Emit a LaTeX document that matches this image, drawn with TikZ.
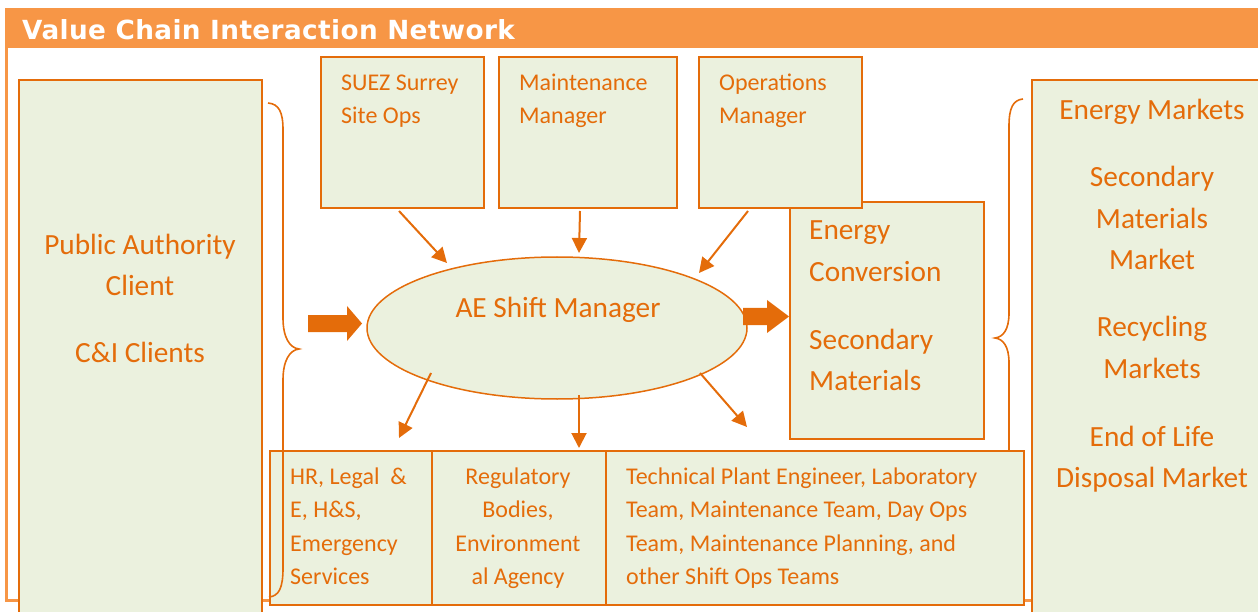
\documentclass[tikz,border=0pt]{standalone}
\usepackage{fontspec}
\setmainfont{Carlito}
\newfontfamily\hdrfont[LetterSpace=1.5]{DejaVu Sans}
\usetikzlibrary{arrows.meta,shapes.geometric,calc}
\definecolor{hdr}{HTML}{F79646}
\definecolor{dk}{HTML}{E46C0A}
\definecolor{pale}{HTML}{EBF1DE}
\newcommand\mylines[2]{\begin{tabular}[t]{@{}#1@{}}#2\end{tabular}}
\begin{document}
\begin{tikzpicture}[x=1pt,y=-1pt,
  box/.style={draw=dk,line width=2pt,fill=pale,inner sep=0pt,anchor=north west},
  sm/.style={text=dk,font=\fontsize{24}{33.3}\selectfont,inner sep=0pt},
  lg/.style={text=dk,font=\fontsize{29.3}{41.5}\selectfont,inner sep=0pt},
  conn/.style={draw=dk,line width=2pt,-{Triangle[length=15pt,width=15pt]}},
  bracestyle/.style={draw=dk,line width=1.6pt},
  blockarrow/.style={fill=dk}]
\useasboundingbox (0,0) rectangle (1258,612);
\clip (0,0) rectangle (1258,612);
% frame and header
\draw[hdr,line width=3pt] (6.5,10) rectangle (1300,600.5);
\fill[hdr] (5,10) rectangle (1300,48.5);
\node[anchor=base west,text=white,font=\hdrfont\bfseries\fontsize{26.3}{30}\selectfont,inner sep=0pt] (title) at (22,39.5) {Value Chain Interaction Network};
% side boxes
\node[box,minimum width=243pt,minimum height=600pt] (pac) at (18,79) {};
\node[box,minimum width=260pt,minimum height=600pt] (mkt) at (1031,79) {};
% energy box
\node[box,minimum width=194pt,minimum height=237pt] (energy) at (789,201) {};
% top boxes
\node[box,minimum width=163pt,minimum height=151pt] (suez) at (320,56) {};
\node[box,minimum width=178pt,minimum height=151pt] (maint) at (498,56) {};
\node[box,minimum width=163pt,minimum height=151pt] (ops) at (698,56) {};
% ellipse
\node[ellipse,draw=dk,line width=1.5pt,fill=pale,minimum width=380pt,minimum height=142pt,inner sep=0pt] (ae) at (557,328) {};
% bottom boxes
\node[box,minimum width=162pt,minimum height=154pt] (hr) at (269,450) {};
\node[box,minimum width=174pt,minimum height=154pt] (reg) at (431,450) {};
\node[box,minimum width=418pt,minimum height=154pt] (tech) at (605,450) {};
% texts
\node[lg,anchor=base] (pactext) at (140,254.5) {\mylines{c}{Public Authority\\Client\\[25.5pt]C\&I Clients}};
\node[lg,anchor=base] (mkttext) at (1152,120) {\mylines{c}{Energy Markets\\[25.5pt]Secondary\\Materials\\Market\\[25.5pt]Recycling\\Markets\\[26.5pt]End of Life\\Disposal Market}};
\node[lg,anchor=base west] (energytext) at (809,240) {\mylines{l}{Energy\\Conversion\\[26.5pt]Secondary\\Materials}};
\node[lg,anchor=base] (aetext) at (558,317) {AE Shift Manager};
\node[sm,anchor=base west,font=\fontsize{24}{32.5}\selectfont] (suezt) at (341,91) {\mylines{l}{SUEZ Surrey\\Site Ops}};
\node[sm,anchor=base west,font=\fontsize{24}{32.5}\selectfont] (maintt) at (519,91) {\mylines{l}{Maintenance\\Manager}};
\node[sm,anchor=base west,font=\fontsize{24}{32.5}\selectfont] (opst) at (719,91) {\mylines{l}{Operations\\Manager}};
\node[sm,anchor=base west] (hrt) at (290,484.5) {\mylines{l}{HR, Legal\ \ \&\\E, H\&S,\\Emergency\\Services}};
\node[sm,anchor=base] (regt) at (518,484.5) {\mylines{c}{Regulatory\\Bodies,\\Environment\\al Agency}};
\node[sm,anchor=base west] (techt) at (626,484.5) {\mylines{l}{Technical Plant Engineer, Laboratory\\Team, Maintenance Team, Day Ops\\Team, Maintenance Planning, and\\other Shift Ops Teams}};
% thin connectors
\draw[conn] ($(suez.south)+(-3.5,2)$) -- ($(ae.center)+(-110,-65)$);
\draw[conn] ($(maint.south)+(-8,2)$) -- ($(ae.center)+(22,-75)$);
\draw[conn] ($(ops.south)+(-32.5,2)$) -- ($(ae.center)+(142,-55)$);
\draw[conn] ($(ae.center)+(-126,45)$) -- ($(hr.north west)+(130,-12)$);
\draw[conn] ($(ae.center)+(22,67)$) -- ($(reg.north west)+(148,-2)$);
\draw[conn] ($(ae.center)+(143,45)$) -- ($(tech.north west)+(142,-23)$);
% block arrows
\fill[blockarrow] (308,315) -- (347,315) -- (347,306) -- (362,323.5) -- (347,341) -- (347,332) -- (308,332) -- cycle;
\fill[blockarrow] (743,308) -- (767,308) -- (767,300) -- (789,316.5) -- (767,333) -- (767,325) -- (743,325) -- cycle;
% braces
\draw[bracestyle] (268,103) .. controls (279,104) and (283,112) .. (283,130) -- (283,318)
  .. controls (283,338) and (290,348) .. (299,349) .. controls (290,350) and (283,360) .. (283,380)
  -- (283,568) .. controls (283,588) and (279,596) .. (269,597);
\draw[bracestyle] (1023,99) .. controls (1013,100) and (1009,108) .. (1009,126) -- (1009,313)
  .. controls (1009,330) and (1003,337) .. (995,338) .. controls (1003,339) and (1009,346) .. (1009,363)
  -- (1009,450);
\end{tikzpicture}
\end{document}
